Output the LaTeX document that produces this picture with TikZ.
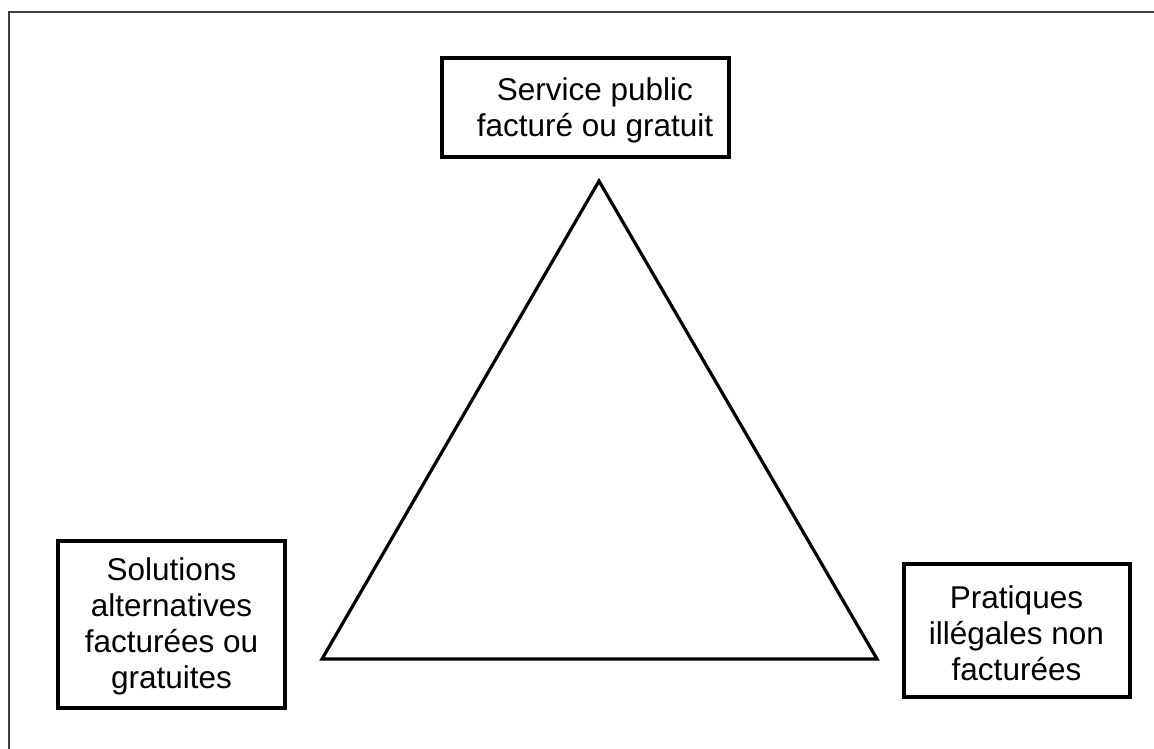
\documentclass[tikz,border=0pt]{standalone}
\usepackage{fontspec}
\setmainfont{Liberation Sans}
\begin{document}
\begin{tikzpicture}[x=1pt,y=-1pt,
  labelbox/.style={draw=black,line width=4pt,inner sep=0pt},
  boxtext/.style={align=center,inner sep=0pt,font=\fontsize{31.5}{36}\selectfont},
  frameline/.style={draw=black!75,line width=1.5pt},
  tri/.style={draw=black,line width=3.2pt,line join=miter}]
\useasboundingbox (0,0) rectangle (1154,749);
\draw[frameline] (9,749) -- (9,12) -- (1154,12);
\node[labelbox,minimum width=287pt,minimum height=99pt] (top) at (585,108) {};
\node[boxtext] (toptext) at (595,110) {Service public\\facturé ou gratuit};
\node[labelbox,minimum width=227pt,minimum height=167pt] (left) at (171.5,624) {};
\node[boxtext] (lefttext) at (171.5,626) {Solutions\\alternatives\\facturées ou\\gratuites};
\node[labelbox,minimum width=226pt,minimum height=133pt] (right) at (1016.5,630.5) {};
\node[boxtext] (righttext) at (1016.5,633) {Pratiques\\illégales non\\facturées};
\coordinate (apex) at (599,181);
\coordinate (bl) at (322,659);
\coordinate (br) at (877,659);
\draw[tri] (apex) -- (br) -- (bl) -- cycle;
\end{tikzpicture}
\end{document}
